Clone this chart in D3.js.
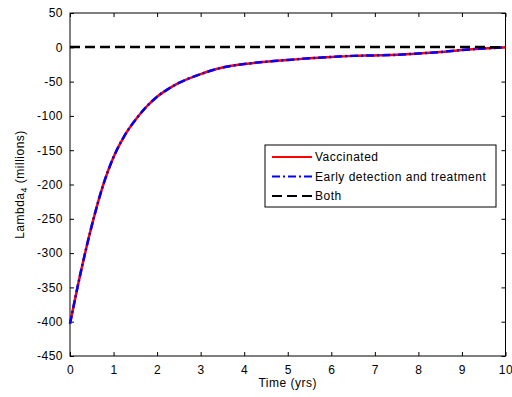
<!DOCTYPE html>
<html>
<head>
<meta charset="utf-8">
<script src="https://cdn.jsdelivr.net/npm/d3@7"></script>
<style>
  body { margin: 0; background: #fff; }
  text { font-family: Arial, "Liberation Sans", sans-serif; letter-spacing: 0.5px; }
</style>
</head>
<body>
<div id="chart"></div>
<script>
// data
const years = [0, 0.25, 0.5, 0.75, 1, 1.25, 1.5, 1.75, 2, 2.25, 2.5, 3, 3.5, 4, 4.5, 5, 5.5, 6, 6.5, 7, 7.5, 8, 8.5, 9, 9.5, 10];
const vaccinated = [-403, -327, -260, -203, -160, -129, -106, -87, -72, -61, -52, -39, -29.5, -24.5, -21, -18.5, -16, -14, -12.5, -11.8, -11, -9, -7, -4, -1.7, 0];
const earlyDetection = [-403, -327, -260, -203, -160, -129, -106, -87, -72, -61, -52, -39, -29.5, -24.5, -21, -18.5, -16, -14, -12.5, -11.8, -11, -9, -7, -4, -1.7, 0];
const both = [0.5, 0.5, 0.5, 0.5, 0.5, 0.5, 0.5, 0.5, 0.5, 0.5, 0.5, 0.5, 0.5, 0.5, 0.5, 0.5, 0.5, 0.5, 0.5, 0.5, 0.5, 0.5, 0.5, 0.5, 0.3, 0];
const seriesNames = ['Vaccinated', 'Early detection and treatment', 'Both'];
const xTicks = [0, 1, 2, 3, 4, 5, 6, 7, 8, 9, 10];
const yTicks = [50, 0, -50, -100, -150, -200, -250, -300, -350, -400, -450];

const W = 512, H = 397;
const margin = { top: 13, right: 6.5, bottom: 41, left: 70 };
const width = W - margin.left - margin.right;
const height = H - margin.top - margin.bottom;

const svg = d3.select('#chart')
  .append('svg')
  .attr('width', W)
  .attr('height', H);

const g = svg.append('g')
  .attr('transform', `translate(${margin.left},${margin.top})`);

const x = d3.scaleLinear().domain([0, 10]).range([0, width]);
const y = d3.scaleLinear().domain([-450, 50]).range([height, 0]);

// plain hyphen minus like the original
const fmt = d => String(d);

// axes, ticks pointing inward, mirrored on top/right
const axisStyle = sel => {
  sel.select('.domain').remove();
  sel.selectAll('line').attr('stroke', '#000');
  sel.selectAll('text').attr('font-size', 12).attr('fill', '#000');
};

g.append('g')
  .attr('transform', `translate(0,${height})`)
  .call(d3.axisBottom(x).tickValues(xTicks).tickSize(-4).tickPadding(9).tickFormat(fmt))
  .call(axisStyle);
g.append('g')
  .call(d3.axisTop(x).tickValues(xTicks).tickSize(-4).tickFormat(''))
  .call(axisStyle);
g.append('g')
  .call(d3.axisLeft(y).tickValues(yTicks).tickSize(-4).tickPadding(7).tickFormat(fmt))
  .call(axisStyle);
g.append('g')
  .attr('transform', `translate(${width},0)`)
  .call(d3.axisRight(y).tickValues(yTicks).tickSize(-4).tickFormat(''))
  .call(axisStyle);

g.append('rect')
  .attr('width', width)
  .attr('height', height)
  .attr('fill', 'none')
  .attr('stroke', '#000')
  .attr('stroke-width', 1);

const line = d3.line()
  .curve(d3.curveMonotoneX)
  .x(d => x(d[0]))
  .y(d => y(d[1]));

const series = [
  { values: vaccinated, color: '#ff0000', dash: null },
  { values: earlyDetection, color: '#0000ff', dash: '8,3,2,3' },
  { values: both, color: '#000', dash: '10,5' },
];

const plot = g.append('g');
series.forEach(s => {
  plot.append('path')
    .datum(years.map((t, i) => [t, s.values[i]]))
    .attr('d', line)
    .attr('fill', 'none')
    .attr('stroke', s.color)
    .attr('stroke-width', 2.5)
    .attr('stroke-dasharray', s.dash);
});

// axis labels
svg.append('text')
  .attr('x', margin.left + width / 2)
  .attr('y', 387)
  .attr('text-anchor', 'middle')
  .attr('font-size', 12)
  .text('Time (yrs)');

const yl = svg.append('text')
  .attr('transform', `translate(24,${margin.top + height / 2}) rotate(-90)`)
  .attr('text-anchor', 'middle')
  .attr('font-size', 12);
yl.append('tspan').text('Lambda');
yl.append('tspan').attr('font-size', 9).attr('dy', 3).text('4');
yl.append('tspan').attr('dy', -3).text(' (millions)');

// legend
const legend = svg.append('g').attr('transform', 'translate(265,145)');
legend.append('rect')
  .attr('width', 231)
  .attr('height', 62)
  .attr('fill', '#fff')
  .attr('stroke', '#000');
series.forEach((s, i) => {
  const ly = 12 + i * 19.5;
  legend.append('line')
    .attr('x1', 7).attr('x2', 47)
    .attr('y1', ly).attr('y2', ly)
    .attr('stroke', s.color)
    .attr('stroke-width', 2)
    .attr('stroke-dasharray', s.dash);
  legend.append('text')
    .attr('x', 50)
    .attr('y', ly + 4)
    .attr('font-size', 12)
    .text(seriesNames[i]);
});
</script>
</body>
</html>
